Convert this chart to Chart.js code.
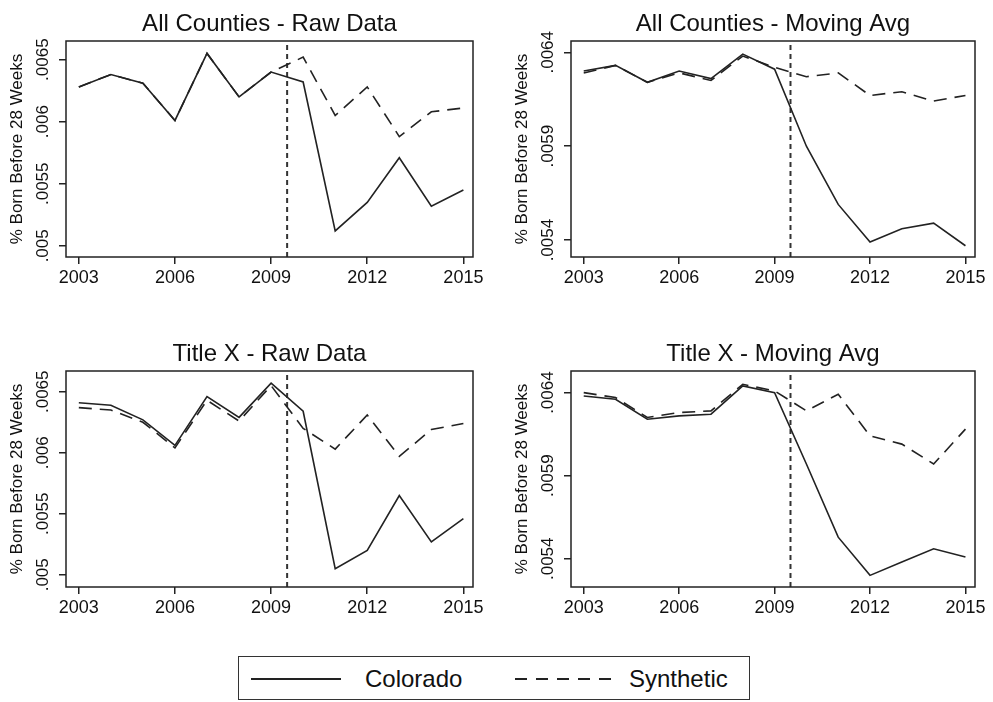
<!DOCTYPE html>
<html><head><meta charset="utf-8">
<script src="https://cdn.jsdelivr.net/npm/chart.js@4/dist/chart.umd.min.js"></script>
<style>
body{margin:0;background:#fff;width:993px;height:702px;position:relative;overflow:hidden;font-family:"Liberation Sans",Arial,sans-serif}
.p{position:absolute;width:496px;height:300px}
#legend{position:absolute;left:238px;top:656px;width:512px;height:44px;border:1px solid #333;box-sizing:border-box}
#legend span{position:absolute;top:8px;font-size:24px;color:#111}
#legend i{position:absolute;top:21px;height:0;border-top:2px solid #222}
#legend b{position:absolute;top:21px;width:12px;height:0;border-top:2px solid #222}
</style></head><body>
<div class="p" style="left:0;top:0"><canvas id="c0"></canvas></div>
<div class="p" style="left:496px;top:0"><canvas id="c1"></canvas></div>
<div class="p" style="left:0;top:330px"><canvas id="c2"></canvas></div>
<div class="p" style="left:496px;top:330px"><canvas id="c3"></canvas></div>
<div id="legend">
<i style="left:12px;width:90px"></i><span style="left:126px">Colorado</span>
<b style="left:276px"></b><b style="left:297px"></b><b style="left:318px"></b><b style="left:339px"></b><b style="left:360px"></b>
<span style="left:390px">Synthetic</span>
</div>
<script>
const years = [2003,2004,2005,2006,2007,2008,2009,2010,2011,2012,2013,2014,2015];
const xTicks = [2003,2006,2009,2012,2015];
const treatYear = 2009.5;

const titles = ["All Counties - Raw Data","All Counties - Moving Avg","Title X - Raw Data","Title X - Moving Avg"];
const yTickVals = [[0.005,0.0055,0.006,0.0065],[0.0054,0.0059,0.0064],[0.005,0.0055,0.006,0.0065],[0.0054,0.0059,0.0064]];
const yTickLabels = [[".005",".0055",".006",".0065"],[".0054",".0059",".0064"],[".005",".0055",".006",".0065"],[".0054",".0059",".0064"]];
const yRange = [[0.00491,0.00665],[0.00531,0.00646],[0.0049,0.00667],[0.00523,0.00653]];

const allRawCO  = [0.00628,0.00638,0.00631,0.00601,0.00655,0.0062,0.0064,0.00632,0.00512,0.00535,0.00571,0.00532,0.00545];
const allRawSyn = [0.00628,0.00638,0.00631,0.00601,0.00655,0.0062,0.0064,0.00652,0.00605,0.00628,0.00588,0.00608,0.00611];
const allMaCO   = [0.0063,0.00633,0.00624,0.0063,0.00626,0.00639,0.00631,0.0059,0.00559,0.00539,0.00546,0.00549,0.00537];
const allMaSyn  = [0.00629,0.00633,0.00624,0.00629,0.00625,0.00638,0.00632,0.00627,0.00629,0.00617,0.00619,0.00614,0.00617];
const txRawCO   = [0.00641,0.00639,0.00627,0.00606,0.00646,0.00629,0.00657,0.00634,0.00505,0.0052,0.00565,0.00527,0.00546];
const txRawSyn  = [0.00637,0.00635,0.00625,0.00604,0.00643,0.00626,0.00655,0.0062,0.00603,0.00631,0.00597,0.00619,0.00624];
const txMaCO    = [0.00638,0.00636,0.00624,0.00626,0.00627,0.00644,0.0064,0.00597,0.00553,0.0053,0.00538,0.00546,0.00541];
const txMaSyn   = [0.0064,0.00637,0.00625,0.00628,0.00629,0.00645,0.00641,0.00629,0.00639,0.00614,0.00609,0.00597,0.00618];
const series = [[allRawCO,allRawSyn],[allMaCO,allMaSyn],[txRawCO,txRawSyn],[txMaCO,txMaSyn]];

const ink = "#222";
const FONT = '"Liberation Sans", Arial, sans-serif';

function makeChart(i){
  const left = (i%2===0) ? 66 : 75;
  const right = (i%2===0) ? 23 : 17;
  const [co, syn] = series[i];
  const [ymin, ymax] = yRange[i];
  const deco = {
    id:"deco",
    afterDraw(chart){
      const c = chart.ctx, a = chart.chartArea, ys = chart.scales.y;
      c.save();
      c.strokeStyle = ink; c.lineWidth = 1.5;
      c.strokeRect(a.left, a.top, a.right-a.left, a.bottom-a.top);
      c.fillStyle = "#111";
      c.font = "24px " + FONT; c.textAlign = "center"; c.textBaseline = "alphabetic";
      c.fillText(titles[i], (a.left+a.right)/2, 31);
      c.font = "17px " + FONT;
      yTickVals[i].forEach((v,k)=>{
        const py = ys.getPixelForValue(v);
        c.save(); c.translate(a.left-14, py); c.rotate(-Math.PI/2);
        c.textAlign = "center"; c.textBaseline = "bottom";
        c.fillText(yTickLabels[i][k], 0, 0); c.restore();
      });
      c.save(); c.translate(a.left-40, (a.top+a.bottom)/2); c.rotate(-Math.PI/2);
      c.textAlign = "center"; c.textBaseline = "bottom"; c.font = "17px " + FONT;
      c.fillText("% Born Before 28 Weeks", 0, 0); c.restore();
      c.restore();
    }
  };
  new Chart(document.getElementById("c"+i), {
    type: "line",
    data: { datasets: [
      { data: years.map((y,k)=>({x:y,y:co[k]})), borderColor: ink, borderWidth: 1.6, pointRadius: 0, tension: 0 },
      { data: years.map((y,k)=>({x:y,y:syn[k]})), borderColor: ink, borderWidth: 1.6, borderDash: [13,8], pointRadius: 0, tension: 0 },
      { data: [{x:treatYear,y:ymin},{x:treatYear,y:ymax}], borderColor: "#333", borderWidth: 2, borderDash: [5,4], pointRadius: 0 }
    ]},
    options: {
      responsive: true, maintainAspectRatio: false, animation: false,
      layout: { padding: { top: 41, right: right, left: 0, bottom: 0 } },
      plugins: { legend: { display: false }, tooltip: { enabled: false } },
      scales: {
        x: { type: "linear", min: 2002.6, max: 2015.3,
          afterBuildTicks: s => { s.ticks = xTicks.map(v=>({value:v})); },
          afterFit: s => { s.height = 43; },
          grid: { drawOnChartArea: false, tickLength: 7, color: ink, lineWidth: 1.5 },
          border: { display: false },
          ticks: { color: "#111", font: { size: 18, family: FONT }, padding: 3, maxRotation: 0, callback: v => String(v) } },
        y: { min: ymin, max: ymax,
          afterBuildTicks: s => { s.ticks = yTickVals[i].map(v=>({value:v})); },
          afterFit: s => { s.width = left; },
          grid: { drawOnChartArea: false, tickLength: 7, color: ink, lineWidth: 1.5 },
          border: { display: false },
          ticks: { callback: () => "" } }
      }
    },
    plugins: [deco]
  });
}
[0,1,2,3].forEach(makeChart);
</script>
</body></html>
